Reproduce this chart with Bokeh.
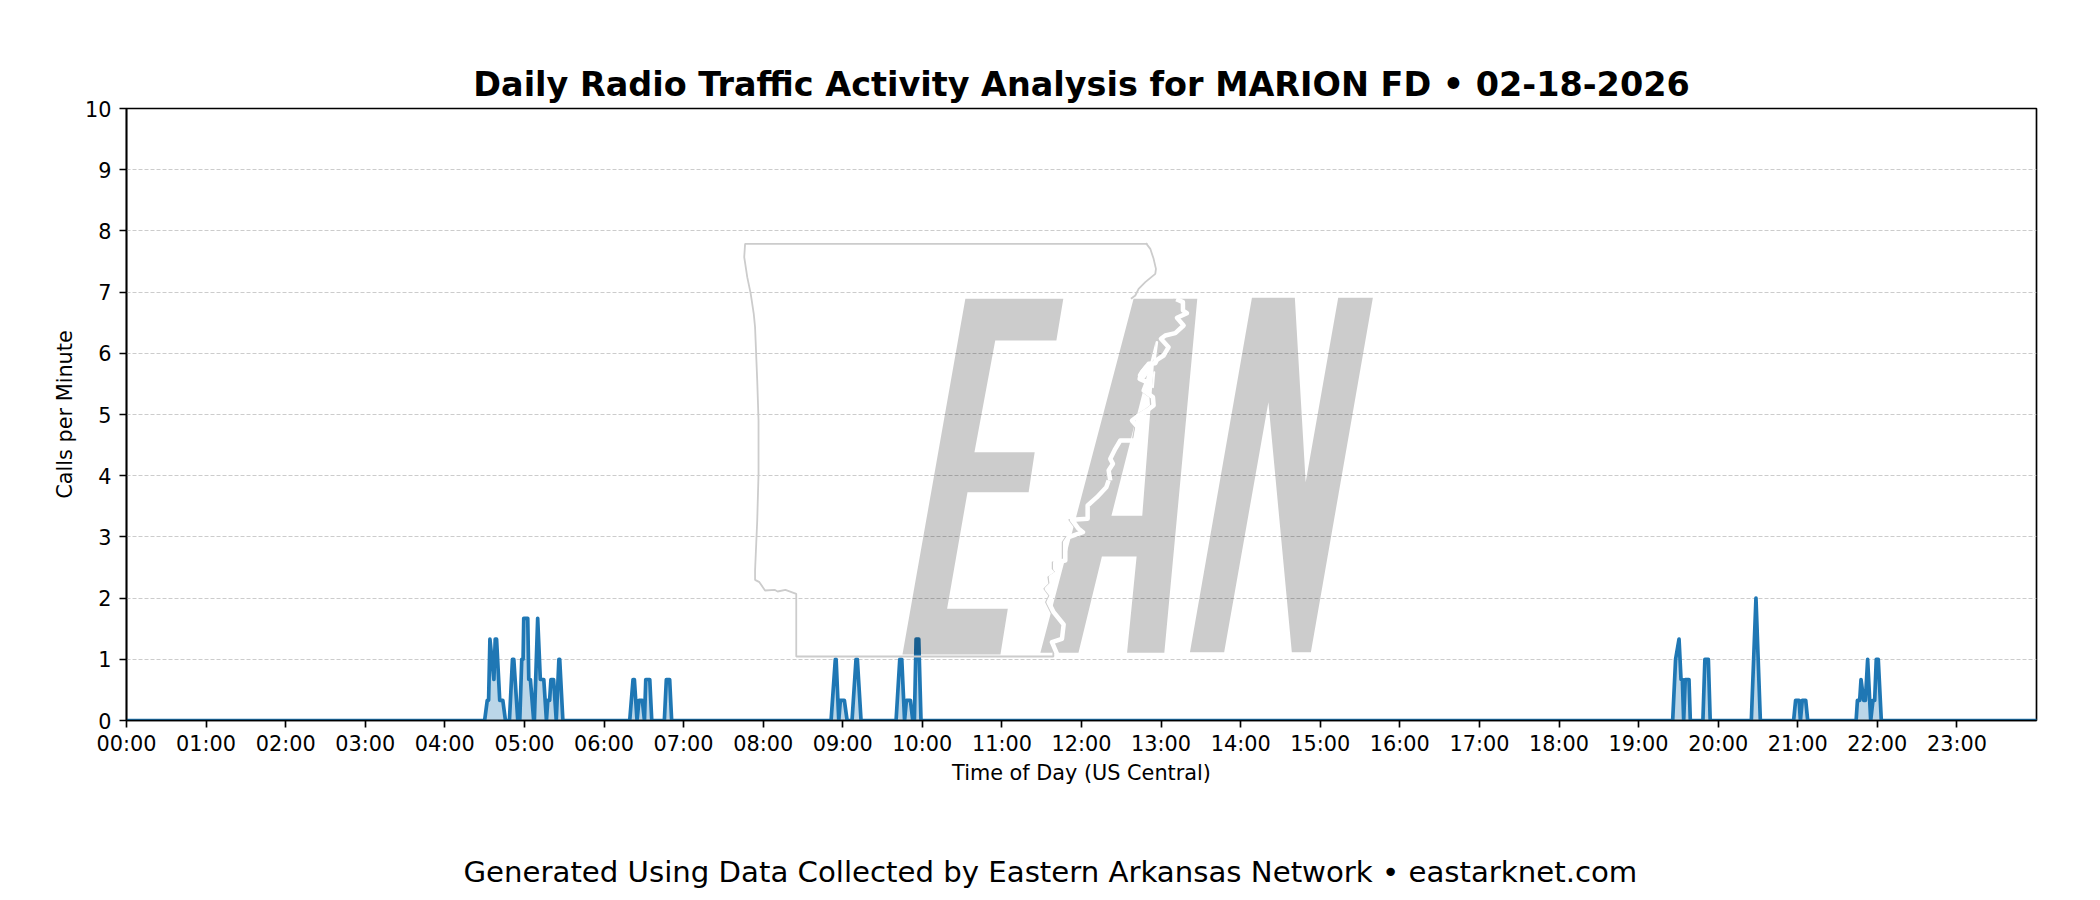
from bokeh.plotting import figure
from bokeh.embed import file_html
from bokeh.resources import INLINE
from bokeh.models import FixedTicker, Range1d, Title

TITLE = "Daily Radio Traffic Activity Analysis for MARION FD • 02-18-2026"
FOOTER = "Generated Using Data Collected by Eastern Arkansas Network • eastarknet.com"
X_LABEL = "Time of Day (US Central)"
Y_LABEL = "Calls per Minute"
HOURS = list(range(24))
HOUR_LABELS = [f"{h:02d}:00" for h in HOURS]
Y_TICKS = list(range(11))

# Minutes after midnight and calls per minute, vertex by vertex
MINUTES = [0, 270, 272, 273, 274, 277, 278, 279, 281.4, 283.7, 285.7,
           288.7, 291, 292, 295, 296.5, 298, 299, 299.5, 302.5, 303.3, 304.5, 307,
           307.5, 310, 312, 314.6, 316.6, 317.6, 319, 320, 322, 324, 326, 326.6, 329,
           379.4, 381.9, 382.9, 384.9, 386.4, 388.9, 390.5, 391.5, 394.5, 396,
           405.5, 407, 409.5, 411,
           531.2, 534.4, 535, 537, 538.2, 541.2, 543.3, 547, 550, 551, 553.8,
           580.2, 583, 584.5, 586.6, 588, 591, 592.8, 594, 595.3, 597.3, 599,
           1165.7, 1167.9, 1170.5, 1172, 1173, 1174, 1175.2, 1178, 1179,
           1188.5, 1190, 1192.6, 1194, 1225, 1228.5, 1231.8,
           1256.9, 1258.4, 1261, 1262, 1263.4, 1266, 1267.5,
           1304, 1305, 1306.7, 1307.7, 1309.7, 1311, 1312.7, 1315, 1316.7, 1318,
           1319.2, 1320.7, 1323, 1440]
CALLS = [0, 0, .33, .33, 1.33, .67, 1.33, 1.33, .33, .33, 0,
         0, 1, 1, 0, 0, 1, 1, 1.67, 1.67, .67, .67, 0,
         0, 1.67, .67, .67, 0, .33, .33, .67, .67, 0, 1, 1, 0,
         0, .67, .67, 0, .33, .33, 0, .67, .67, 0,
         0, .67, .67, 0,
         0, 1, 1, 0, .33, .33, 0, 0, 1, 1, 0,
         0, 1, 1, 0, .33, .33, 0, 0, 1.33, 1.33, 0,
         0, 1, 1.33, .67, .67, 0, .67, .67, 0,
         0, 1, 1, 0, 0, 2, 0,
         0, .33, .33, 0, .33, .33, 0,
         0, .33, .33, .67, .33, .33, 1, 0, .33, .33,
         1, 1, 0, 0]

# Watermark logo, traced in reference-page pixels
E_PX = [(565, 235), (791, 235), (775, 360), (634, 360), (586, 695), (725, 695), (711, 815),
        (570, 815), (523, 1165), (663, 1165), (646, 1302), (420, 1302)]
A_PX = [(953, 235), (1100, 235), (1024, 1297), (938, 1297), (960, 1008), (880, 1008),
        (826, 1297), (738, 1297)]
A_HOLE_PX = [(1004, 362), (973, 886), (902, 886)]
N_PX = [(1226, 232), (1325, 232), (1350, 785), (1425, 232), (1505, 232), (1362, 1295),
        (1318, 1295), (1264, 545), (1162, 1295), (1083, 1295)]
STATE_PX = [(985, 70), (57, 70), (55, 110), (62, 170), (70, 220), (77, 280), (80, 320), (85, 480),
            (88, 600), (88, 760), (85, 900), (80, 1050), (80, 1078), (90, 1085), (103, 1110),
            (125, 1108), (132, 1113), (150, 1108), (175, 1120), (175, 1308), (768, 1308),
            (768, 1297)]
NE_CORNER_PX = [(437, 8), (450, 25), (460, 55), (467, 85), (465, 100), (435, 125), (415, 145),
                (405, 165), (392, 175)]
RIVER_TOP_PX = [(528, 176), (548, 185), (548, 210), (560, 218), (530, 232), (550, 255), (525, 278),
                (495, 285), (482, 295), (505, 320), (490, 345), (470, 358), (465, 368), (445, 370),
                (425, 395), (418, 415), (440, 425), (430, 450), (458, 470), (460, 495), (440, 510),
                (415, 525), (395, 540), (412, 560), (405, 600), (360, 600), (345, 625), (330, 655),
                (338, 670), (325, 690), (330, 720)]
RIVER_LOW_PX = [(325, 0), (318, 20), (290, 50), (262, 75), (262, 115), (215, 118), (235, 145),
                (248, 155), (205, 170), (195, 185), (195, 240), (165, 245), (165, 265), (175, 275),
                (152, 290), (155, 310), (140, 325), (155, 345), (145, 365), (160, 395), (190, 432),
                (185, 475), (155, 485), (170, 520)]
CHANNEL_1_PX = [(470, 305), (462, 365)]
CHANNEL_2_PX = [(462, 395), (458, 440)]
LAKE_PX = [(440, 385), (425, 405)]


def to_x(px):
    return (px - 126) * 60 / 79.6


def to_y(py):
    return (720 - py) / 61.2


def logo(points):
    return ([to_x(720 + a / 2.306) for a, _ in points], [to_y(220 + b / 3) for _, b in points])


def crop(points, base_x, base_y, shift=0):
    return ([to_x(base_x + a / 3 + shift) for a, _ in points], [to_y(base_y + b / 3) for _, b in points])


p = figure(width=2092, height=892, frame_width=1910, frame_height=612,
           min_border_left=126, min_border_right=56, min_border_top=108, min_border_bottom=172,
           x_range=Range1d(0, 1440), y_range=Range1d(0, 10),
           output_backend="svg", toolbar_location=None, background_fill_color="white",
           border_fill_color="white")

p.title.text = TITLE
p.title.align = "center"
p.title.text_font = "DejaVu Sans"
p.title.text_font_size = "33.45px"
p.title.text_font_style = "bold"
p.title.text_color = "black"
p.title.standoff = 10

p.xgrid.visible = False
p.ygrid.grid_line_color = "#cccccc"
p.ygrid.grid_line_width = 1
p.ygrid.grid_line_dash = "4 2"
p.ygrid.ticker = FixedTicker(ticks=Y_TICKS)

p.outline_line_color = "black"
p.outline_line_width = 1.67
p.outline_line_alpha = 1

for ax in (p.xaxis[0], p.yaxis[0]):
    ax.axis_line_color = "black"
    ax.axis_line_width = 1.67
    ax.major_tick_line_color = "black"
    ax.major_tick_line_width = 1.67
    ax.major_tick_in = 0
    ax.major_tick_out = 7
    ax.minor_tick_line_color = None
    ax.major_label_text_font = "DejaVu Sans"
    ax.major_label_text_font_size = "20.8px"
    ax.major_label_text_color = "black"
    ax.major_label_standoff = 4
    ax.axis_label_text_font = "DejaVu Sans"
    ax.axis_label_text_font_size = "20.8px"
    ax.axis_label_text_font_style = "normal"
    ax.axis_label_text_color = "black"

p.yaxis[0].major_label_standoff = 8
p.xaxis[0].ticker = FixedTicker(ticks=[h * 60 for h in HOURS])
p.xaxis[0].major_label_overrides = {h * 60: s for h, s in zip(HOURS, HOUR_LABELS)}
p.yaxis[0].ticker = FixedTicker(ticks=Y_TICKS)
p.xaxis[0].axis_label = X_LABEL
p.yaxis[0].axis_label = Y_LABEL
p.xaxis[0].axis_label_standoff = 2
p.yaxis[0].axis_label_standoff = 5

p.varea(MINUTES, [0] * len(MINUTES), CALLS, fill_color="#1f77b4", fill_alpha=0.3)
p.line(MINUTES, CALLS, line_color="#1f77b4", line_width=3.7, line_join="round", line_cap="round")

# Watermark on top of the series
ex, ey = logo(E_PX)
ax_, ay = logo(A_PX)
hx, hy = logo(A_HOLE_PX)
nx, ny = logo(N_PX)
p.multi_polygons(xs=[[[ex]], [[ax_, hx]], [[nx]]], ys=[[[ey]], [[ay, hy]], [[ny]]],
                 fill_color="black", fill_alpha=0.2, line_color=None)
sx, sy = logo(STATE_PX)
p.line(sx, sy, line_color="#cccccc", line_width=1.8)
cx, cy = crop(NE_CORNER_PX, 1000, 240)
p.line(cx, cy, line_color="#cccccc", line_width=1.8, line_join="round")
for pts, bx, by in ((RIVER_TOP_PX, 1000, 240), (RIVER_LOW_PX, 1000, 480)):
    gx, gy = crop(pts, bx, by, shift=-2.8)
    p.line(gx, gy, line_color="#cccccc", line_width=1.5, line_join="round")
    wx, wy = crop(pts, bx, by)
    p.line(wx, wy, line_color="white", line_width=4.5, line_join="round")
for pts, width in ((CHANNEL_1_PX, 2.5), (CHANNEL_2_PX, 2), (LAKE_PX, 8)):
    wx, wy = crop(pts, 1000, 240)
    p.line(wx, wy, line_color="white", line_width=width, line_cap="round")

p.add_layout(Title(text=FOOTER, align="left", offset=337, standoff=131,
                   text_font="DejaVu Sans", text_font_size="29.2px", text_color="black",
                   text_font_style="normal"), "below")

open("out.html", "w").write(file_html(p, INLINE))
